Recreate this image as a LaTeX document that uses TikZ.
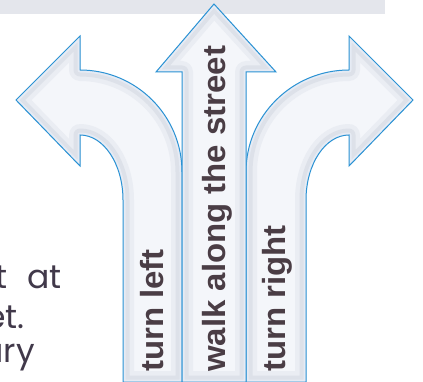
\documentclass[tikz,border=0pt]{standalone}
\usepackage{fontspec}
\newfontfamily\lblfont[FakeStretch=1.03]{Liberation Sans}
\newfontfamily\bodyfont{Poppins}
\definecolor{bandgrey}{HTML}{E4E6EC}
\definecolor{arrowblue}{HTML}{2A92D4}
\definecolor{arrowfill}{HTML}{F4F6FA}
\definecolor{shadeA}{HTML}{EAEDF3}
\definecolor{shadeB}{HTML}{DDE1E9}
\definecolor{shadeC}{HTML}{E6EBF4}
\definecolor{lbltext}{HTML}{4A3D45}
\definecolor{bodytext}{HTML}{41394A}
\tikzset{
  outline/.style={draw=arrowblue, line width=1pt, line join=miter},
  lbl/.style={font=\lblfont\bfseries\fontsize{32}{32}\selectfont, text=lbltext, inner sep=0pt, rotate=90, anchor=base west},
  body/.style={font=\bodyfont\fontsize{33}{33}\selectfont, text=bodytext, inner sep=0pt, anchor=base east}
}
\newcommand{\leftpath}{(182,382) -- (182,172) .. controls (182,115.7) and (136.3,70) .. (80,70) -- (80,36) -- (16,100) -- (80,166) -- (80,135) .. controls (103.7,135) and (123,164.1) .. (123,200) -- (123,382) -- cycle}
\newcommand{\rightpath}{(246,382) -- (246,172) .. controls (246,115.7) and (292.3,70) .. (349,70) -- (349,36) -- (413,100) -- (349,166) -- (349,135) .. controls (325.3,135) and (306,164.1) .. (306,200) -- (306,382) -- cycle}
\newcommand{\centerpath}{(182,382) -- (182,72) -- (156,72) -- (214,4) -- (276,72) -- (246,72) -- (246,382) -- cycle}
\newcommand{\shadedarrow}[1]{%
  \begin{scope}
    \clip #1;
    \fill[arrowfill] #1;
    \draw[shadeA, line width=22pt, line join=round] #1;
    \draw[shadeB, line width=13pt, line join=round] #1;
    \draw[shadeC, line width=5pt, line join=round] #1;
  \end{scope}
  \draw[outline] #1;}
\begin{document}
\begin{tikzpicture}[x=1pt,y=-1pt]
\useasboundingbox (0,0) rectangle (423,382);
\clip (0,0) rectangle (423,382);
\fill[white] (0,0) rectangle (423,382);
\fill[bandgrey] (0,0) rectangle (385,14);
\shadedarrow{\leftpath}
\shadedarrow{\rightpath}
\shadedarrow{\centerpath}
\node[lbl] (tl) at (163,372) {turn left};
\node[lbl] (ws) at (225,372) {walk along the street};
\node[lbl] (tr) at (285,372) {turn right};
\node[body] (l1) at (62,288) {t\hspace{0.6em}at};
\node[body] (l2) at (25,328) {et.};
\node[body] (l3) at (35,362) {ary};
\end{tikzpicture}
\end{document}
